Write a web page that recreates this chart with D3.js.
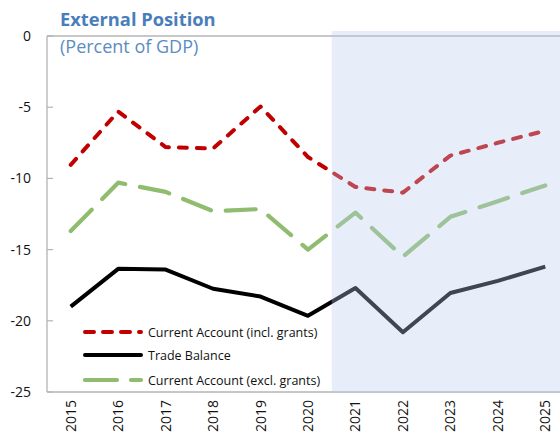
<!DOCTYPE html>
<html>
<head>
<meta charset="utf-8">
<script src="https://cdn.jsdelivr.net/npm/d3@7/dist/d3.min.js"></script>
<style>
  html, body { margin: 0; padding: 0; background: #fff; }
  svg { display: block; font-family: 'Open Sans', 'Noto Sans', sans-serif; }
</style>
</head>
<body>
<div id="chart"></div>
<script>
// === External Position chart ===

const years = ['2015', '2016', '2017', '2018', '2019', '2020', '2021', '2022', '2023', '2024', '2025'];
const caIncl = [-9.05, -5.3, -7.8, -7.9, -4.95, -8.5, -10.6, -11.0, -8.4, -7.5, -6.65];
const tradeBalance = [-19.0, -16.35, -16.4, -17.75, -18.3, -19.65, -17.7, -20.8, -18.05, -17.2, -16.2];
const caExcl = [-13.7, -10.3, -10.95, -12.3, -12.15, -15.0, -12.4, -15.5, -12.7, -11.6, -10.5];
const yTicks = [0, -5, -10, -15, -20, -25];
const projectionStart = '2021';

const WIDTH = 560;
const HEIGHT = 433;
const PLOT = { left: 47, right: 569, top: 36, bottom: 392 };

const svg = d3.select('#chart')
  .append('svg')
  .attr('width', WIDTH)
  .attr('height', HEIGHT);

const x = d3.scaleBand().domain(years).range([PLOT.left, PLOT.right]).padding(0);
const y = d3.scaleLinear().domain([-25, 0]).range([PLOT.bottom, PLOT.top]);
const cx = (d) => x(d) + x.bandwidth() / 2;

// Title
svg.append('text')
  .attr('x', 60).attr('y', 26)
  .attr('fill', '#4a7ebb')
  .attr('font-size', '18.3px').attr('font-weight', '700')
  .text('External Position');
svg.append('text')
  .attr('x', 60).attr('y', 53)
  .attr('fill', '#5b8cc2')
  .attr('font-size', '18px')
  .text('(Percent of GDP)');

// Axes lines
const axisColor = '#b4b4b4';
svg.append('line')
  .attr('x1', PLOT.left).attr('x2', PLOT.left)
  .attr('y1', PLOT.top).attr('y2', PLOT.bottom)
  .attr('stroke', axisColor).attr('stroke-width', 1.3);
svg.append('line')
  .attr('x1', PLOT.left).attr('x2', WIDTH)
  .attr('y1', y(0)).attr('y2', y(0))
  .attr('stroke', axisColor).attr('stroke-width', 1.3);
svg.append('line')
  .attr('x1', PLOT.left).attr('x2', WIDTH)
  .attr('y1', y(-25)).attr('y2', y(-25))
  .attr('stroke', axisColor).attr('stroke-width', 1.3);

// Y ticks (inward) and labels
for (const t of yTicks) {
  svg.append('line')
    .attr('x1', PLOT.left).attr('x2', PLOT.left + 6)
    .attr('y1', y(t)).attr('y2', y(t))
    .attr('stroke', axisColor).attr('stroke-width', 1.2);
  svg.append('text')
    .attr('x', 31).attr('y', y(t) + 5)
    .attr('text-anchor', 'end')
    .attr('fill', '#111')
    .attr('font-size', '14px')
    .text(t);
}

// X labels, rotated
for (const yr of years) {
  svg.append('text')
    .attr('transform', `translate(${cx(yr) + 5},${400}) rotate(-90)`)
    .attr('text-anchor', 'end')
    .attr('fill', '#111')
    .attr('font-size', '14px')
    .text(yr);
}

// Lines
const series = [
  { name: 'Current Account (incl. grants)', values: caIncl, color: '#c00000', dash: '8,10', width: 4 },
  { name: 'Trade Balance', values: tradeBalance, color: '#000000', dash: null, width: 4 },
  { name: 'Current Account (excl. grants)', values: caExcl, color: '#8fbc6e', dash: '30,15', width: 4.2 }
];

const line = d3.line()
  .x((d, i) => cx(years[i]))
  .y(d => y(d));

const lineGroup = svg.append('g').attr('class', 'lines');
// draw green first, then red, then black on top
for (const s of [series[2], series[0], series[1]]) {
  const p = lineGroup.append('path')
    .datum(s.values)
    .attr('d', line)
    .attr('fill', 'none')
    .attr('stroke', s.color)
    .attr('stroke-width', s.width)
    .attr('stroke-linejoin', 'round')
    .attr('stroke-linecap', s.dash ? 'round' : 'butt');
  if (s.dash) p.attr('stroke-dasharray', s.dash);
}

// Projection shading, drawn over the lines
svg.append('rect')
  .attr('x', x(projectionStart))
  .attr('y', 31)
  .attr('width', WIDTH - x(projectionStart))
  .attr('height', PLOT.bottom - 31)
  .attr('fill', 'rgb(188,206,238)')
  .attr('fill-opacity', 0.34);

// Legend
const legend = svg.append('g').attr('class', 'legend');
const legendRows = [332, 355, 380];
series.forEach((s, i) => {
  const ly = legendRows[i];
  const l = legend.append('line')
    .attr('x1', 85).attr('x2', 141)
    .attr('y1', ly).attr('y2', ly)
    .attr('stroke', s.color)
    .attr('stroke-width', s.width)
    .attr('stroke-linecap', 'round');
  if (s.dash) l.attr('stroke-dasharray', s.dash === '30,15' ? '32,14' : '9,9');
  legend.append('text')
    .attr('x', 148).attr('y', ly + 4.5)
    .attr('fill', '#111')
    .attr('font-size', '12.5px')
    .text(s.name);
});
</script>
</body>
</html>
